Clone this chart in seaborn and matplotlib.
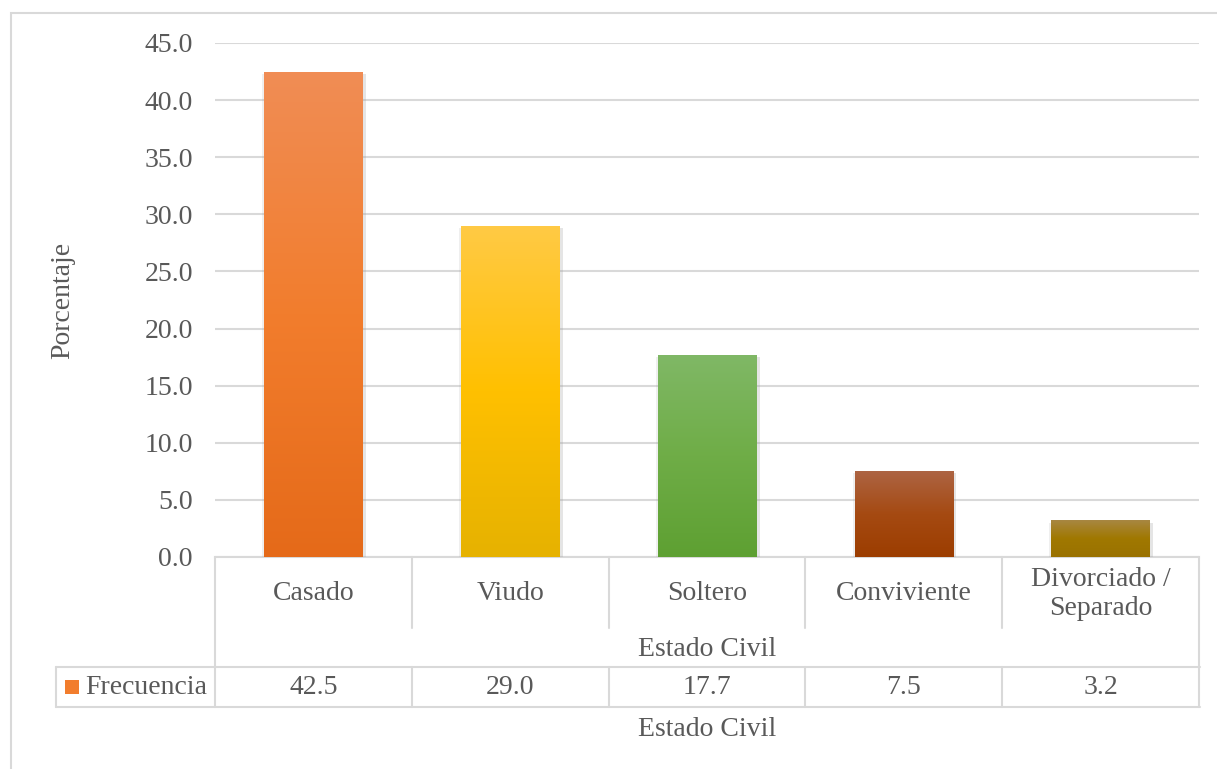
"""
Estado civil: porcentaje por categoria, barras con degradado y tabla de datos debajo
(estilo grafico de Excel).
"""

import matplotlib
matplotlib.use("Agg")
import matplotlib.pyplot as plt
import matplotlib.patheffects as pe
from matplotlib.colors import LinearSegmentedColormap
from matplotlib.lines import Line2D
from matplotlib.patches import Rectangle
from matplotlib.transforms import blended_transform_factory
import numpy as np
import pandas as pd
import seaborn as sns

# Data
categories = ["Casado", "Viudo", "Soltero", "Conviviente", "Divorciado /\nSeparado"]
porcentaje = [42.5, 29.0, 17.7, 7.5, 3.2]
series_name = "Frecuencia"
axis_title = "Estado Civil"
y_title = "Porcentaje"
y_ticks = [0, 5, 10, 15, 20, 25, 30, 35, 40, 45]

# Gradient colours per bar (top, middle, bottom)
top_colors = ["#F08D55", "#FFCA45", "#80B866", "#AD6443", "#A88742"]
mid_colors = ["#F27D2D", "#FFC000", "#6FAD47", "#A54A12", "#A07800"]
bot_colors = ["#E56A19", "#E6B200", "#5EA032", "#9C3D00", "#9A7200"]

TEXT = "#595959"
GRID = "#D9D9D9"
FS = 20

sns.set_theme(style="white")
plt.rcParams["font.family"] = ["Liberation Serif", "DejaVu Serif"]

W, H = 1217, 769
fig = plt.figure(figsize=(W / 100, H / 100), dpi=100)

# plot area in pixels: x 215..1199, y 43..557
L, R, T, B = 215, 1199, 43, 557
ax = fig.add_axes([L / W, 1 - B / H, (R - L) / W, (B - T) / H])

df = pd.DataFrame({axis_title: categories, y_title: porcentaje})
sns.barplot(data=df, x=axis_title, y=y_title, color=mid_colors[0], width=0.5,
            saturation=1, ax=ax, zorder=3)

# gradient fill + soft shadow on each bar
grad = np.linspace(0, 1, 256).reshape(-1, 1)
for patch, ct, cm, cb in zip(ax.patches, top_colors, mid_colors, bot_colors):
    patch.set_facecolor(cm)
    patch.set_edgecolor("none")
    patch.set_path_effects([
        pe.SimplePatchShadow(offset=(2.5, -1.5), shadow_rgbFace="#9A9A9A", alpha=0.25),
        pe.SimplePatchShadow(offset=(-1.5, -1.5), shadow_rgbFace="#9A9A9A", alpha=0.15),
        pe.Normal()])
    x0, y0 = patch.get_x(), patch.get_y()
    w, h = patch.get_width(), patch.get_height()
    cmap = LinearSegmentedColormap.from_list("g", [cb, cm, ct])
    im = ax.imshow(grad, cmap=cmap, aspect="auto", origin="lower",
                   extent=[x0, x0 + w, y0, y0 + h], zorder=4)
    im.set_clip_path(patch)

ax.set_xlim(-0.5, len(categories) - 0.5)
ax.set_ylim(0, 45)
ax.set_yticks(y_ticks)
ax.set_yticklabels([f"{v:.1f}" for v in y_ticks])
ax.tick_params(axis="y", length=0, pad=16, labelsize=FS, labelcolor=TEXT)
ax.tick_params(axis="x", length=0, labelbottom=False)
ax.set_xlabel("")
ax.yaxis.grid(True, color=GRID, linewidth=1.5)
ax.set_axisbelow(True)
for s in ["top", "right", "left"]:
    ax.spines[s].set_visible(False)
ax.spines["bottom"].set_color(GRID)
ax.spines["bottom"].set_linewidth(1.5)

ax.set_ylabel(y_title, fontsize=FS, color=TEXT)
ax.yaxis.set_label_coords((63 - L) / (R - L), 0.5)
ax.yaxis.label.set_va("center")

# data table below the plot
def ay(py):
    return (B - py) / (B - T)

def axx(px):
    return (px - L) / (R - L)

bt = blended_transform_factory(ax.transData, ax.transAxes)
n = len(categories)
line_kw = dict(color=GRID, linewidth=1.5, clip_on=False)

for k in range(n + 1):
    xb = k - 0.5
    if k in (0, n):
        ax.add_line(Line2D([xb, xb], [ay(B), ay(707)], transform=bt, **line_kw))
    else:
        ax.add_line(Line2D([xb, xb], [ay(B), ay(628)], transform=bt, **line_kw))
        ax.add_line(Line2D([xb, xb], [ay(667), ay(707)], transform=bt, **line_kw))

for py in (667, 707):
    ax.add_line(Line2D([axx(56), axx(1200)], [ay(py), ay(py)], transform=ax.transAxes, **line_kw))
ax.add_line(Line2D([axx(56), axx(56)], [ay(667), ay(707)], transform=ax.transAxes, **line_kw))

for i, (cat, val) in enumerate(zip(categories, porcentaje)):
    ax.text(i, ay(594), cat, transform=bt, ha="center", va="center",
            fontsize=FS, color=TEXT, linespacing=1.2)
    ax.text(i, ay(688), f"{val:.1f}", transform=bt, ha="center", va="center",
            fontsize=FS, color=TEXT)

ax.text(0.5, ay(649), axis_title, transform=ax.transAxes, ha="center", va="center",
        fontsize=FS, color=TEXT)
ax.text(0.5, ay(730), axis_title, transform=ax.transAxes, ha="center", va="center",
        fontsize=FS, color=TEXT)

# legend key inside the table
ax.add_patch(Rectangle((axx(65), ay(694)), axx(79) - axx(65), ay(680) - ay(694),
                       transform=ax.transAxes, facecolor=mid_colors[0], edgecolor="none",
                       clip_on=False))
ax.text(axx(85), ay(688), series_name, transform=ax.transAxes, ha="left", va="center",
        fontsize=FS, color=TEXT)

# outer chart border
fig.add_artist(Rectangle((11 / W, -0.1), 1.2, 1 - 13 / H + 0.1, transform=fig.transFigure,
                         fill=False, edgecolor=GRID, linewidth=1.5))

fig.savefig("out.png", dpi=100)
